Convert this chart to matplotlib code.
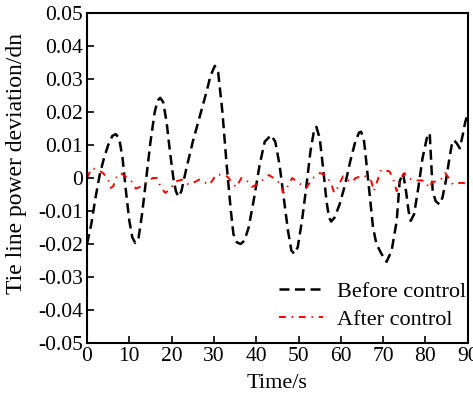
import numpy as np
import matplotlib
matplotlib.use("Agg")
import matplotlib.pyplot as plt

plt.rcParams['font.family'] = ['Liberation Serif', 'DejaVu Serif']
plt.rcParams['mathtext.fontset'] = 'stix'

# Before control
t_before = [0, 1, 2, 3, 4, 5, 6, 6.8,
            7.6, 8.4, 9.2, 10.0, 10.7, 11.4,
            12.2, 13, 14, 15, 16, 16.7, 17.3,
            18, 18.8, 19.6, 20.4, 21, 21.6,
            22.3, 23.5, 25, 26.5, 28, 29.2, 30.2,
            31, 32, 33, 34, 34.6, 35.4, 36.3, 37.2,
            38.2, 39.5, 40.8, 42, 43.5,
            44.5, 45.5, 46.5, 47.5, 48.3, 49,
            49.8, 50.8, 51.8, 52.8, 53.6, 54.2,
            55, 55.8, 56.6, 57.2, 57.7,
            58.5, 59.7, 61, 62.2, 63.4, 64.3, 64.8,
            65.5, 66.4, 67.6, 68.4, 69.6, 70.8, 72, 73.2, 73.9, 74.7,
            75.4, 76, 76.5,
            77.3, 78.3, 79.3, 80.3, 81,
            81.7, 82.4, 83.3,
            84, 84.8, 85.6, 86.2, 86.7, 87.4, 88.1, 88.8, 89.4, 90]
v_before = [-0.020, -0.014, -0.006, 0.001, 0.006, 0.010, 0.0128, 0.0133,
            0.012, 0.006, -0.004, -0.013, -0.018, -0.0197,
            -0.018, -0.011, 0.000, 0.011, 0.020, 0.0235, 0.0243,
            0.023, 0.017, 0.008, 0.000, -0.004, -0.0057,
            -0.004, 0.003, 0.011, 0.018, 0.025, 0.031, 0.034,
            0.032, 0.020, 0.004, -0.010, -0.017, -0.0195, -0.020, -0.019,
            -0.015, -0.006, 0.004, 0.011, 0.013,
            0.011, 0.004, -0.006, -0.016, -0.022, -0.023,
            -0.021, -0.013, -0.003, 0.008, 0.014, 0.0155,
            0.012, 0.003, -0.007, -0.012, -0.0132,
            -0.012, -0.008, -0.002, 0.005, 0.011, 0.0138, 0.014,
            0.011, 0.000, -0.015, -0.020, -0.023, -0.0254, -0.022, -0.013, -0.001, 0.0015,
            -0.004, -0.010, -0.013,
            -0.011, -0.003, 0.006, 0.012, 0.0136,
            -0.004, -0.007, -0.008,
            -0.006, -0.001, 0.0055, 0.010, 0.0115, 0.0105, 0.009, 0.013, 0.017, 0.0195]

# After control
t_after = [0, 1.1, 2.5, 3.8, 5.0, 5.6, 6.2, 6.8, 8.0, 9.5, 10.5, 11.5, 13.0,
           14.5, 15.5, 16.5, 17.5, 18.5, 19.5, 21.0, 22.5, 24.0, 25.5, 26.5,
           27.5, 29.0, 30.5, 32.0, 33.2, 34.4, 35.2, 36.5, 37.5, 39.0, 40.3,
           41.5, 43.0, 44.7, 45.8, 46.4, 47.0, 48.5, 50.0, 51.8, 53.4, 55.0,
           56.5, 57.8, 58.4, 59.0, 60.5, 62.0, 62.5, 63.5, 65.5, 67.2, 67.8,
           69.5, 71.5, 72.3, 73.2, 74.2, 75.0, 75.9, 77.5, 79.0, 80.0, 80.8,
           81.6, 83.0, 84.0, 84.7, 85.5, 86.5, 88.0, 89.0, 90.0]
v_after = [0.000, 0.0030, 0.0025, 0.0015, -0.0005, -0.003, -0.0025, 0.000,
           0.0015, 0.000, -0.001, -0.0032, -0.0025, -0.0012, 0.000, 0.000,
           -0.003, -0.0045, -0.0035, -0.001, -0.0005, -0.002, -0.0012, -0.0005,
           -0.0012, -0.002, 0.001, 0.001, 0.0004, -0.0015, -0.0028, 0.000,
           -0.0004, -0.0027, -0.0018, -0.0006, 0.0009, -0.0005, -0.002, -0.0045,
           -0.0035, 0.000, -0.0015, -0.003, 0.000, 0.0015, 0.0009, -0.002,
           -0.0045, -0.0035, 0.0005, -0.001, -0.0013, 0.0, 0.0008, -0.001,
           -0.004, 0.0025, 0.002, 0.000, -0.004, 0.0, 0.0015, 0.000, -0.0008,
           -0.0007, -0.001, -0.003, -0.0012, -0.001, 0.000, 0.0015, 0.000,
           -0.002, -0.0015, -0.0015, -0.002]

x_ticks = [0, 10, 20, 30, 40, 50, 60, 70, 80, 90]
y_ticks = [-0.05, -0.04, -0.03, -0.02, -0.01, 0, 0.01, 0.02, 0.03, 0.04, 0.05]
y_labels = ['-0.05', '-0.04', '-0.03', '-0.02', '-0.01', '0',
            '0.01', '0.02', '0.03', '0.04', '0.05']

fig = plt.figure(figsize=(4.73, 3.96), dpi=100)
ax = fig.add_axes([0.184, 0.134, 0.805, 0.833])

ax.plot(t_before, v_before, color='black', lw=1.8, dashes=(4, 2.2),
        label='Before control')
ax.plot(t_after, v_after, color='red', lw=1.4, dashes=(3.5, 3, 0.7, 3),
        label='After control')

ax.set_xlim(0, 90)
ax.set_ylim(-0.05, 0.05)
ax.set_xticks(x_ticks)
ax.set_yticks(y_ticks)
ax.set_yticklabels(y_labels)
ax.tick_params(direction='in', length=5, width=1.2, labelsize=15.5, pad=3)
for s in ax.spines.values():
    s.set_linewidth(1.5)

ax.set_xlabel('Time/s', fontsize=16, labelpad=6)
ax.set_ylabel('Tie line power deviation/dn', fontsize=17)
ax.yaxis.set_label_coords(-0.157, 0.545)

ax.legend(loc='lower right', frameon=False, fontsize=16, handlelength=2.0,
          handletextpad=0.6, borderaxespad=0.2, labelspacing=0.35,
          bbox_to_anchor=(1.03, -0.002))

fig.savefig('out.png', dpi=100)
